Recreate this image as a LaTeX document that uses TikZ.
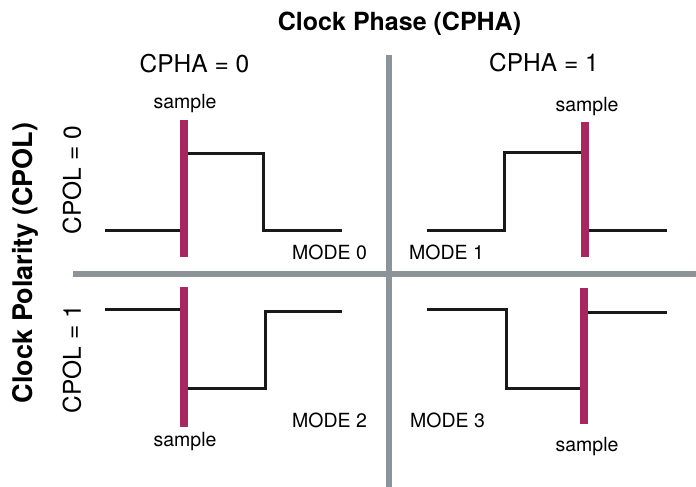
\documentclass[tikz,border=0pt]{standalone}
\usepackage{fontspec}
\setmainfont{TeX Gyre Heros}
\definecolor{gridgrey}{HTML}{8C9499}
\definecolor{samplered}{HTML}{A8275F}
\tikzset{
  divider/.style={draw=gridgrey, line width=5.5pt},
  wave/.style={draw=black!90, line width=3pt, line join=miter},
  samplebar/.style={draw=samplered, line width=8pt},
  axistitle/.style={font=\fontsize{25}{28}\selectfont\bfseries, inner sep=0pt},
  sidetitle/.style={font=\fontsize{27}{30}\selectfont\bfseries, inner sep=0pt, rotate=90},
  caselabel/.style={font=\fontsize{24.5}{28}\selectfont, inner sep=0pt},
  samplelabel/.style={font=\fontsize{19.5}{22}\selectfont, inner sep=0pt, anchor=base},
  modelabel/.style={font=\fontsize{19.5}{22}\selectfont, inner sep=0pt, anchor=base},
}
\begin{document}
\begin{tikzpicture}[x=1pt, y=-1pt]
\useasboundingbox (0,0) rectangle (696,487);

% quadrant dividers
\coordinate (vtop) at (389,55);
\coordinate (vbot) at (389,487);
\coordinate (hleft) at (73,274);
\coordinate (hright) at (696,274);
\draw[divider] (vtop) -- (vbot);
\draw[divider] (hleft) -- (hright);

% headings
\node[axistitle, anchor=base] (cpha) at (399.5,30.5) {Clock Phase (CPHA)};
\node[sidetitle, anchor=center] (cpol) at (25,263) {Clock Polarity (CPOL)};
\node[caselabel, anchor=base] (cpha0) at (194.5,73) {CPHA = 0};
\node[caselabel, anchor=base] (cpha1) at (544,71.5) {CPHA = 1};
\node[caselabel, rotate=90, anchor=center] (cpol0) at (72,180) {CPOL = 0};
\node[caselabel, rotate=90, anchor=center] (cpol1) at (72,359) {CPOL = 1};

% mode 0: idle low, sample on the leading edge
\draw[wave] (105,230) -- (184,230) -- (184,153) -- (263,153) -- (263,230) -- (342,230);
\coordinate (b0t) at (184,120);
\coordinate (b0b) at (184,257);
\draw[samplebar] (b0t) -- (b0b);
\node[samplelabel] (s0) at (185,108) {sample};
\node[modelabel] (m0) at (329.5,259) {MODE 0};

% mode 1: idle low, sample on the trailing edge
\draw[wave] (427,230) -- (504,230) -- (504,152) -- (585,152) -- (585,230) -- (667,230);
\coordinate (b1t) at (585,122);
\coordinate (b1b) at (585,257);
\draw[samplebar] (b1t) -- (b1b);
\node[samplelabel] (s1) at (587,111.5) {sample};
\node[modelabel] (m1) at (446.5,259) {MODE 1};

% mode 2: idle high, sample on the leading edge
\draw[wave] (105,309) -- (184,309) -- (184,388) -- (265,388) -- (265,311) -- (342,311);
\coordinate (b2t) at (184,287);
\coordinate (b2b) at (184,427);
\draw[samplebar] (b2t) -- (b2b);
\node[samplelabel] (s2) at (185,446.5) {sample};
\node[modelabel] (m2) at (329.5,427.5) {MODE 2};

% mode 3: idle high, sample on the trailing edge
\draw[wave] (427,309) -- (506,309) -- (506,388) -- (584,388) -- (584,312) -- (667,312);
\coordinate (b3t) at (584,288);
\coordinate (b3b) at (584,424);
\draw[samplebar] (b3t) -- (b3b);
\node[samplelabel] (s3) at (587,451) {sample};
\node[modelabel] (m3) at (447.5,427.5) {MODE 3};
\end{tikzpicture}
\end{document}
